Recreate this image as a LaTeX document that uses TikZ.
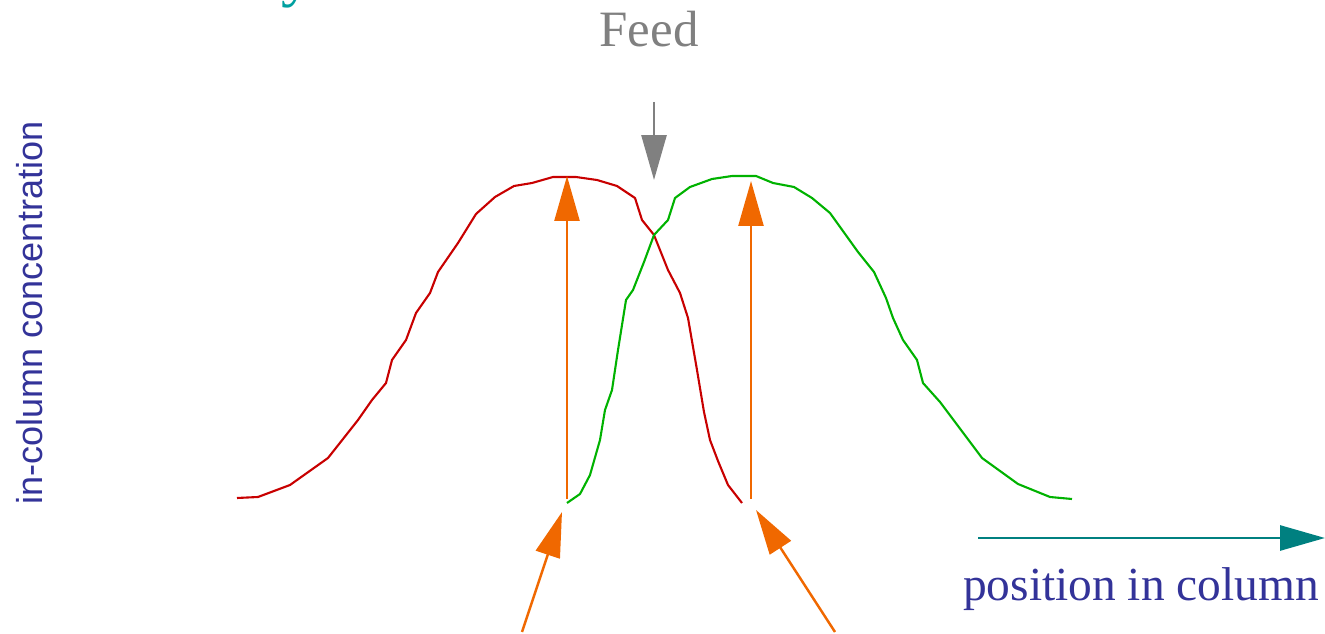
\documentclass[tikz,border=0pt]{standalone}
\usepackage{fontspec}
\setmainfont{Liberation Serif}
\setsansfont{Liberation Sans}
\usetikzlibrary{arrows.meta}

\definecolor{labelblue}{RGB}{51,51,153}
\definecolor{axisteal}{RGB}{0,128,128}
\definecolor{titlecyan}{RGB}{0,160,160}
\definecolor{peakred}{RGB}{200,0,0}
\definecolor{peakgreen}{RGB}{0,178,0}
\definecolor{draworange}{RGB}{240,104,0}
\definecolor{feedgray}{RGB}{128,128,128}

\tikzset{
  bigtip/.style={-{Triangle[length=0.9cm,width=0.5cm]}},
  profile/.style={line width=1.2pt,line join=round}
}

\begin{document}
\begin{tikzpicture}[x=0.02cm,y=-0.02cm]
\useasboundingbox (0,0) rectangle (1325,634);

% clipped title letter
\node[titlecyan,anchor=base,inner sep=0pt,font=\fontsize{36}{40}\selectfont] (title) at (297,-5) {y};

\node[feedgray,anchor=base,inner sep=0pt,font=\fontsize{29}{34}\selectfont] (feed) at (649,47) {Feed};
\node[labelblue,anchor=base,inner sep=0pt,rotate=90,font=\sffamily\fontsize{20.5}{24}\selectfont] (conc) at (42,313) {in-column concentration};
\node[labelblue,anchor=base,inner sep=0pt,font=\fontsize{27}{32}\selectfont] (pos) at (1141,600) {position in column};

% profiles
\draw[profile,peakred] plot coordinates {(237,498) (258,497) (290,485) (328,458) (358,420) (372,400)
  (386,383) (392,360) (406,340) (416,313) (430,293) (438,272) (458,243) (476,214) (495,197)
  (514,186) (532,183) (553,177) (576,177) (597,180) (617,186) (635,198) (642,220) (654,235)
  (668,270) (680,293) (688,318) (697,370) (704,412) (710,440) (718,461) (728,485) (742,503)};
\draw[profile,peakgreen] plot coordinates {(567,503) (580,494) (590,475) (600,440) (605,410)
  (612,390) (618,350) (626,300) (633,290) (644,262) (654,235) (668,220) (675,198) (690,187)
  (712,179) (732,176) (756,176) (773,183) (794,187) (812,198) (830,213) (858,252) (874,272)
  (886,298) (893,318) (903,340) (917,360) (923,383) (940,402) (955,422) (982,458) (1018,484)
  (1050,497) (1072,499)};

% arrows
\coordinate (feedtop) at (654,102);
\coordinate (feedtip) at (654,180);
\coordinate (axisstart) at (978,538);
\coordinate (axisend) at (1325,538);
\coordinate (leftbase) at (567,499);
\coordinate (lefttop) at (567,176);
\coordinate (rightbase) at (751,499);
\coordinate (righttop) at (751,181);
\coordinate (leftfoot) at (522,632);
\coordinate (lefthit) at (562,512);
\coordinate (rightfoot) at (835,632);
\coordinate (righthit) at (756,510);

\draw[bigtip,feedgray,line width=1.6pt] (feedtop) -- (feedtip);
\draw[bigtip,axisteal,line width=1.6pt] (axisstart) -- (axisend);
\draw[bigtip,draworange,line width=1.4pt] (leftbase) -- (lefttop);
\draw[bigtip,draworange,line width=1.4pt] (rightbase) -- (righttop);
\draw[bigtip,draworange,line width=1.4pt] (leftfoot) -- (lefthit);
\draw[bigtip,draworange,line width=1.4pt] (rightfoot) -- (righthit);
\end{tikzpicture}
\end{document}
